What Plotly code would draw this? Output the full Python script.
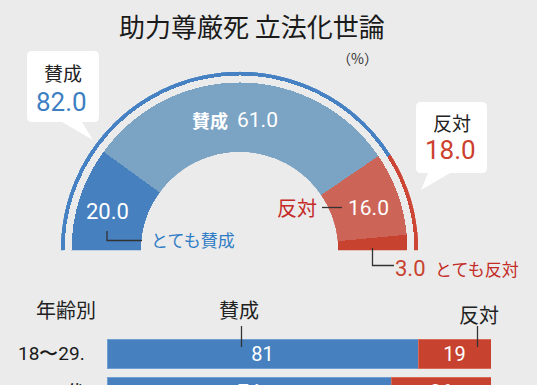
import plotly.graph_objects as go

W, H = 537, 385

# ---------------- data ----------------
title = "助力尊厳死 立法化世論"
seg_labels = ["とても賛成", "賛成", "反対", "とても反対"]
seg_values = [20.0, 61.0, 16.0, 3.0]
seg_colors = ["#4680bf", "#7aa3c4", "#cd6458", "#c8432f"]

ring_labels = ["賛成", "反対"]
ring_values = [82.0, 18.0]
ring_colors = ["#4682c3", "#cc4535"]

age_groups = ["18〜29.", "30代"]
age_yes = [81, 74]
age_no = [19, 26]

# ---------------- helpers ----------------
def px(x):
    return x / W

def py(y):
    return 1 - y / H

NUM_FONT = "Roboto, Noto Sans, sans-serif"
JP_FONT = "Noto Sans CJK JP, Noto Sans, sans-serif"

fig = go.Figure()

# ---------------- half donut (barpolar) ----------------
R_OUT = 179.0
R_HOLE = 98.5
donut_len = 168.0 - R_HOLE
ring_base = 175.0 - R_HOLE
ring_len = R_OUT - 175.0

def centers_widths(values):
    c, cs, ws = 0.0, [], []
    for v in values:
        cs.append((c + v / 2) * 1.8)
        ws.append(v * 1.8)
        c += v
    return cs, ws

th, wd = centers_widths(seg_values)
fig.add_trace(go.Barpolar(
    r=[donut_len] * len(seg_values), theta=th, width=wd, base=[0] * len(seg_values),
    marker=dict(color=seg_colors, line=dict(width=0)),
    hoverinfo="text", text=seg_labels, showlegend=False,
))
th2, wd2 = centers_widths(ring_values)
fig.add_trace(go.Barpolar(
    r=[ring_len] * len(ring_values), theta=th2, width=wd2, base=[ring_base] * len(ring_values),
    marker=dict(color=ring_colors, line=dict(width=0)),
    hoverinfo="text", text=ring_labels, showlegend=False,
))

cx, cy = 239.5, 250.5
fig.update_layout(polar=dict(
    domain=dict(x=[px(cx - R_OUT), px(cx + R_OUT)], y=[py(cy), py(cy - R_OUT)]),
    sector=[0, 180],
    hole=R_HOLE / R_OUT,
    bgcolor="rgba(0,0,0,0)",
    radialaxis=dict(range=[0, R_OUT - R_HOLE], visible=False),
    angularaxis=dict(rotation=180, direction="clockwise", visible=False,
                     showgrid=False, showline=False, ticks=""),
))

# ---------------- age bars ----------------
bar_common = dict(orientation="h", textposition="inside", insidetextanchor="middle",
                  textangle=0, constraintext="none", cliponaxis=True,
                  textfont=dict(color="white", size=20, family=NUM_FONT),
                  xaxis="x", yaxis="y", width=0.763, showlegend=False, hoverinfo="skip")
fig.add_trace(go.Bar(
    x=age_yes, y=list(range(len(age_groups))),
    marker=dict(color="#4680be", line=dict(color="#6f9fd2", width=1)),
    text=[str(v) for v in age_yes], **bar_common,
))
fig.add_trace(go.Bar(
    x=age_no, y=list(range(len(age_groups))),
    marker=dict(color="#c8432f", line=dict(color="#d86a5a", width=1)),
    text=[str(v) for v in age_no], **bar_common,
))
fig.update_layout(
    barmode="stack",
    xaxis=dict(domain=[px(107), px(491)], range=[0, 100], visible=False, fixedrange=True),
    yaxis=dict(domain=[0, py(330)], range=[(385 - 353.5) / 38, -(353.5 - 330) / 38],
               visible=False, fixedrange=True),
)

# ---------------- callout boxes ----------------
def callout(x0, y0, x1, y1, tail, r=5):
    (ax, ay), (bx, by), (tx, tyy) = tail
    p = (f"M {px(x0 + r)},{py(y0)} L {px(x1 - r)},{py(y0)} "
         f"Q {px(x1)},{py(y0)} {px(x1)},{py(y0 + r)} "
         f"L {px(x1)},{py(y1 - r)} Q {px(x1)},{py(y1)} {px(x1 - r)},{py(y1)} "
         f"L {px(bx)},{py(by)} L {px(tx)},{py(tyy)} L {px(ax)},{py(ay)} "
         f"L {px(x0 + r)},{py(y1)} Q {px(x0)},{py(y1)} {px(x0)},{py(y1 - r)} "
         f"L {px(x0)},{py(y0 + r)} Q {px(x0)},{py(y0)} {px(x0 + r)},{py(y0)} Z")
    return dict(type="path", path=p, xref="paper", yref="paper",
                fillcolor="white", line=dict(width=0), layer="above")

shapes = [
    callout(27, 51, 99, 122, [(62, 122), (82, 122), (93, 140)]),
    callout(416, 102, 487, 173, [(428, 173), (450, 173), (421, 190)]),
]

def polyline(pts, color="#333333", width=1.3):
    p = "M " + " L ".join(f"{px(x)},{py(y)}" for x, y in pts)
    return dict(type="path", path=p, xref="paper", yref="paper",
                line=dict(color=color, width=width), layer="above")

shapes += [
    polyline([(107, 231), (107, 240.5), (142, 240.5)]),
    polyline([(322, 207.5), (342, 207.5)]),
    polyline([(372.5, 248), (372.5, 265.5), (394, 265.5)]),
    polyline([(241.5, 326), (241.5, 347)]),
    polyline([(477.5, 326), (477.5, 347)]),
]
fig.update_layout(shapes=shapes)

# ---------------- text ----------------
ann = []

def t(x, y, text, size, color="#222222", family=JP_FONT, xanchor="center"):
    ann.append(dict(x=px(x), y=py(y), xref="paper", yref="paper", text=text,
                    showarrow=False, xanchor=xanchor, yanchor="middle",
                    font=dict(size=size, color=color, family=family)))

t(251.5, 25, title, 26, "#1a1a1a")
t(357, 58, "（%）", 14, "#333333")

# callouts
t(63, 72, ring_labels[0], 19)
t(61, 102, f"{ring_values[0]:.1f}", 26, "#3d7fc2", NUM_FONT)
t(451.5, 122, ring_labels[1], 19)
t(451, 150, f"{ring_values[1]:.1f}", 26, "#cc3f2e", NUM_FONT)

# donut labels
t(210, 120, f"<b>{seg_labels[1]}</b>", 18, "white")
t(257, 120, f"{seg_values[1]:.1f}", 21, "white", NUM_FONT)
t(107.5, 211.5, f"{seg_values[0]:.1f}", 22, "white", NUM_FONT)
t(149, 239.5, seg_labels[0], 17, "#2f7cc5", xanchor="left")
t(297, 207.5, seg_labels[2], 20, "#c42a26")
t(368, 207.5, f"{seg_values[2]:.1f}", 21, "white", NUM_FONT)
t(410.5, 268.5, f"{seg_values[3]:.1f}", 22, "#c8432f", NUM_FONT)
t(433, 268.5, seg_labels[3], 17, "#c42a26", xanchor="left")

# age section
t(66, 309, "年齢別", 20)
t(239, 309, ring_labels[0], 20)
t(478.5, 314, ring_labels[1], 20)
for i, g in enumerate(age_groups):
    t(87, 353.5 + 38 * i, g, 19, "#1a1a1a", NUM_FONT, xanchor="right")

fig.update_layout(
    annotations=ann,
    width=W, height=H,
    margin=dict(l=0, r=0, t=0, b=0),
    paper_bgcolor="#ebebeb", plot_bgcolor="rgba(0,0,0,0)",
    showlegend=False,
)

fig.write_html("out.html", config={"displayModeBar": False},
               post_script="document.body.style.margin='0';")
